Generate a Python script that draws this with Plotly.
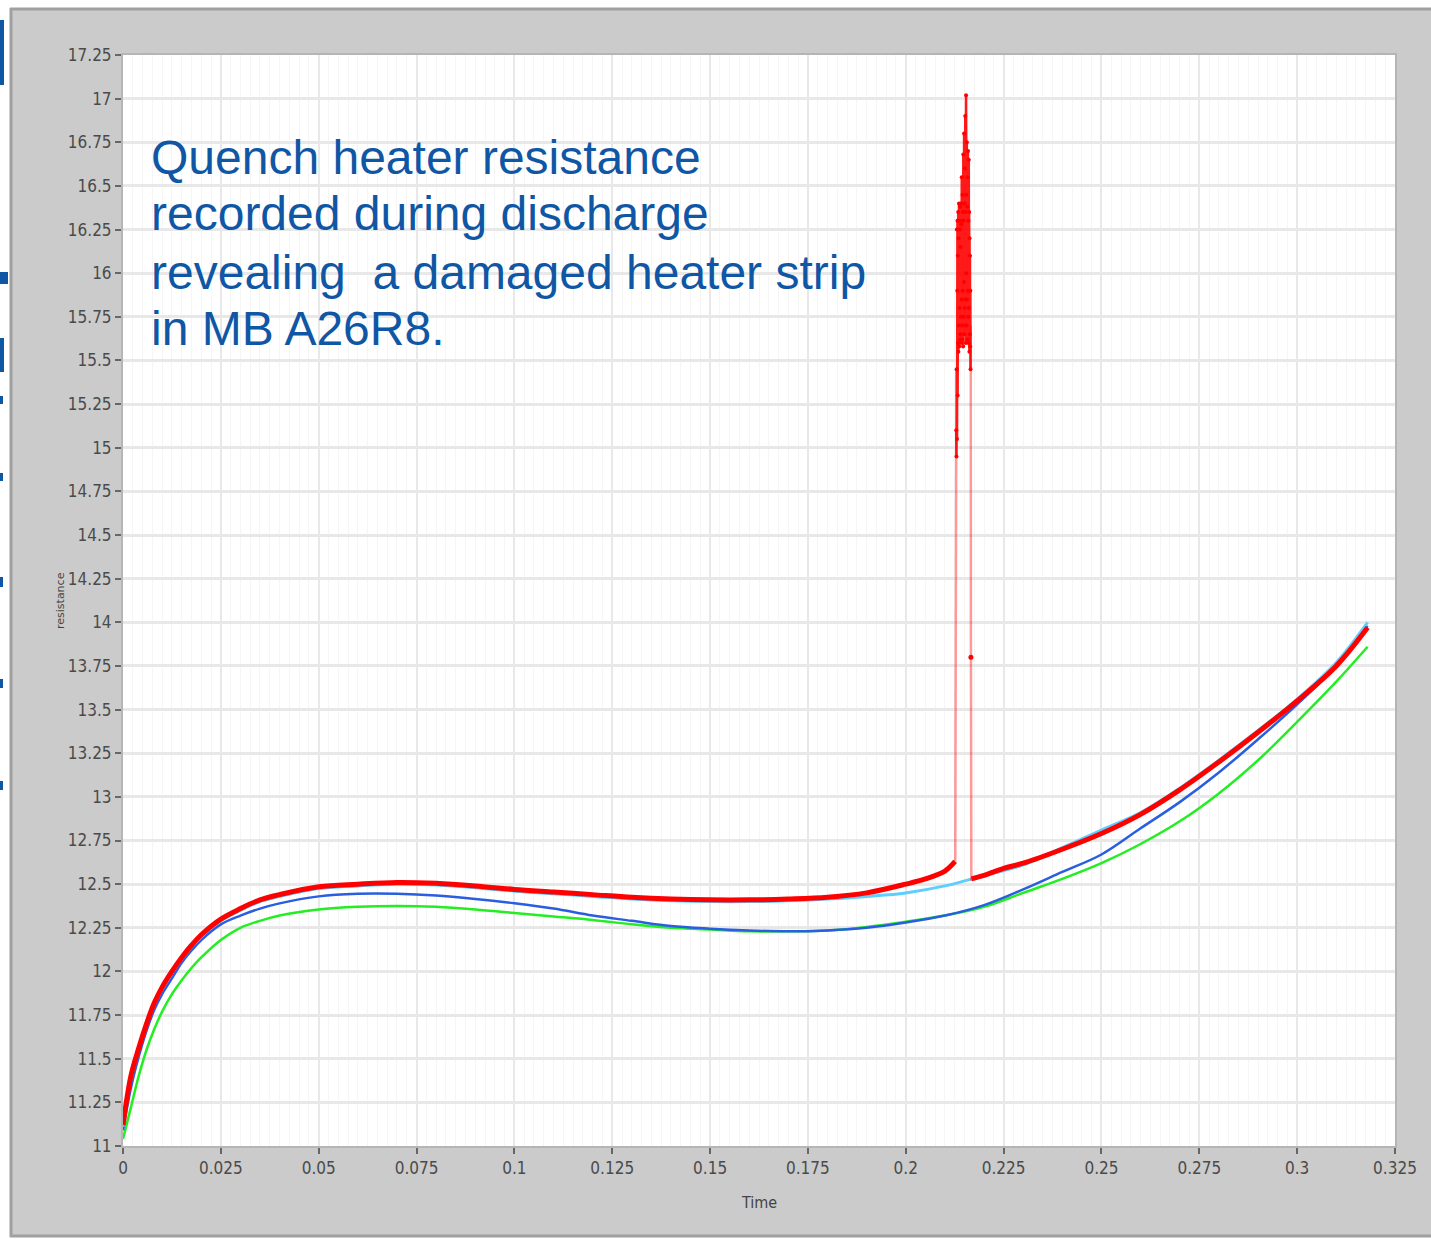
import plotly.graph_objects as go

# ---------------- data ----------------
t_vals = [0, 0.002, 0.004, 0.006, 0.008, 0.01, 0.0125, 0.015, 0.0175, 0.02,
          0.025, 0.03, 0.035, 0.04, 0.05, 0.06, 0.07, 0.08, 0.09, 0.1,
          0.11, 0.12, 0.13, 0.14, 0.15, 0.16, 0.17, 0.18, 0.19, 0.2,
          0.21, 0.22, 0.23, 0.24, 0.25, 0.26, 0.27, 0.28, 0.29, 0.3,
          0.31, 0.318]

green_vals = [11.04, 11.22, 11.40, 11.55, 11.67, 11.77, 11.87, 11.95, 12.02, 12.08,
              12.18, 12.25, 12.29, 12.32, 12.355, 12.37, 12.375, 12.37, 12.355, 12.335,
              12.315, 12.295, 12.27, 12.25, 12.24, 12.23, 12.23, 12.235, 12.255, 12.285,
              12.32, 12.37, 12.45, 12.53, 12.62, 12.73, 12.86, 13.02, 13.21, 13.43,
              13.66, 13.86]

blue_vals = [11.09, 11.33, 11.51, 11.66, 11.78, 11.87, 11.96, 12.05, 12.12, 12.18,
             12.27, 12.32, 12.36, 12.39, 12.43, 12.445, 12.445, 12.435, 12.415, 12.39,
             12.36, 12.32, 12.29, 12.26, 12.245, 12.235, 12.23, 12.235, 12.25, 12.28,
             12.32, 12.38, 12.47, 12.57, 12.67, 12.82, 12.97, 13.14, 13.33, 13.53,
             13.75, 13.98]

cyan_vals = [11.11, 11.38, 11.55, 11.69, 11.81, 11.90, 11.99, 12.07, 12.14, 12.20,
             12.29, 12.35, 12.40, 12.43, 12.475, 12.49, 12.50, 12.495, 12.48, 12.46,
             12.445, 12.43, 12.415, 12.405, 12.40, 12.40, 12.405, 12.415, 12.43, 12.45,
             12.49, 12.55, 12.61, 12.71, 12.81, 12.91, 13.05, 13.21, 13.38, 13.56,
             13.77, 14.00]

# red: before the spike, the spike itself, after the spike
red_t_before = [0, 0.002, 0.004, 0.006, 0.008, 0.01, 0.0125, 0.015, 0.0175, 0.02,
                0.025, 0.03, 0.035, 0.04, 0.05, 0.06, 0.07, 0.08, 0.09, 0.1,
                0.11, 0.12, 0.13, 0.14, 0.15, 0.16, 0.17, 0.18, 0.19, 0.2,
                0.205, 0.21, 0.2126]
red_v_before = [11.12, 11.40, 11.56, 11.70, 11.82, 11.91, 12.00, 12.08, 12.15, 12.21,
                12.30, 12.36, 12.41, 12.44, 12.485, 12.50, 12.51, 12.505, 12.49, 12.47,
                12.455, 12.44, 12.425, 12.415, 12.41, 12.41, 12.415, 12.425, 12.45, 12.50,
                12.53, 12.575, 12.63]

spike_t = [0.21265,
           0.21290, 0.21295, 0.21300, 0.21305, 0.21310, 0.21315, 0.21320, 0.21325, 0.21330, 0.21335,
           0.21340, 0.21345, 0.21350, 0.21355, 0.21360, 0.21365, 0.21370, 0.21375, 0.21380, 0.21385,
           0.21390, 0.21395, 0.21400, 0.21405, 0.21410, 0.21415, 0.21420, 0.21425, 0.21430, 0.21435,
           0.21440, 0.21445, 0.21450, 0.21455, 0.21460, 0.21465, 0.21470, 0.21475, 0.21480, 0.21485,
           0.21490, 0.21495, 0.21500, 0.21505, 0.21510, 0.21515, 0.21520, 0.21525, 0.21530, 0.21535,
           0.21540, 0.21545, 0.21550, 0.21555, 0.21560, 0.21565, 0.21570, 0.21575, 0.21580, 0.21585,
           0.21590, 0.21595, 0.21600, 0.21605, 0.21610, 0.21615, 0.21620, 0.21625, 0.21630, 0.21635,
           0.21640, 0.21645, 0.21650, 0.21655, 0.21660, 0.21665, 0.21675, 0.21680]
spike_v = [12.63,
           15.10, 14.95, 15.45, 16.25, 15.05, 15.90, 16.30, 15.30, 16.10, 15.60,
           16.35, 15.55, 16.20, 15.70, 16.40, 15.58, 16.30, 15.80, 16.25, 15.62,
           16.38, 15.65, 16.15, 15.75, 16.40, 15.60, 16.28, 15.85, 16.55, 15.70,
           16.30, 15.62, 16.45, 15.90, 16.35, 15.58, 16.68, 15.75, 16.30, 15.95,
           16.80, 15.65, 16.40, 15.80, 16.60, 15.70, 16.90, 15.85, 16.35, 15.60,
           17.02, 16.00, 16.45, 15.70, 16.75, 15.85, 16.38, 15.62, 16.55, 15.90,
           16.70, 15.75, 16.30, 15.60, 16.65, 15.80, 16.35, 15.55, 16.20, 15.65,
           16.10, 15.58, 15.90, 15.45, 15.70, 13.80, 12.52, 12.53]

red_t_after = [0.2168, 0.22, 0.225, 0.23, 0.24, 0.25, 0.26, 0.27, 0.28, 0.29,
               0.3, 0.31, 0.318]
red_v_after = [12.53, 12.55, 12.59, 12.62, 12.70, 12.79, 12.90, 13.04, 13.20, 13.37,
               13.55, 13.75, 13.97]

y_ticks = [11, 11.25, 11.5, 11.75, 12, 12.25, 12.5, 12.75, 13, 13.25, 13.5, 13.75,
           14, 14.25, 14.5, 14.75, 15, 15.25, 15.5, 15.75, 16, 16.25, 16.5, 16.75,
           17, 17.25]
y_ticklabels = ["11", "11.25", "11.5", "11.75", "12", "12.25", "12.5", "12.75", "13",
                "13.25", "13.5", "13.75", "14", "14.25", "14.5", "14.75", "15", "15.25",
                "15.5", "15.75", "16", "16.25", "16.5", "16.75", "17", "17.25"]
x_ticks = [0, 0.025, 0.05, 0.075, 0.1, 0.125, 0.15, 0.175, 0.2, 0.225, 0.25, 0.275,
           0.3, 0.325]
x_ticklabels = ["0", "0.025", "0.05", "0.075", "0.1", "0.125", "0.15", "0.175", "0.2",
                "0.225", "0.25", "0.275", "0.3", "0.325"]

note_lines = ["Quench heater resistance",
              "recorded during discharge",
              "revealing&nbsp; a damaged heater strip",
              "in MB A26R8."]

# ---------------- layout geometry (pixels) ----------------
W, H = 1431, 1239
L, R, T, B = 123, 1395, 55, 1146


def px(xp):
    return (xp - L) / (R - L)


def py(yp):
    return (B - yp) / (B - T)


TICK_FONT = dict(family="Liberation Sans Narrow, DejaVu Sans Condensed, Arial Narrow, sans-serif",
                 size=17, color="#4a4a4a")
PANEL = "#cbcbcb"

fig = go.Figure()

fig.add_trace(go.Scatter(x=t_vals, y=green_vals, mode="lines", line_shape="spline",
                         line=dict(color="#22ee22", width=2.5), showlegend=False))
fig.add_trace(go.Scatter(x=t_vals, y=blue_vals, mode="lines", line_shape="spline",
                         line=dict(color="#2a5ee0", width=2.5), showlegend=False))
fig.add_trace(go.Scatter(x=t_vals, y=cyan_vals, mode="lines", line_shape="spline",
                         line=dict(color="#5ccfff", width=3), showlegend=False))
fig.add_trace(go.Scatter(x=red_t_before, y=red_v_before, mode="lines", line_shape="spline",
                         line=dict(color="#ff0000", width=5), showlegend=False))
# spike: faint rising/falling legs, then the dense noisy band
fig.add_trace(go.Scatter(x=spike_t[:2] + [None] + spike_t[-5:], y=spike_v[:2] + [None] + spike_v[-5:],
                         mode="lines",
                         line=dict(color="rgba(255,0,0,0.4)", width=2.5), showlegend=False))
fig.add_trace(go.Scatter(x=spike_t[-3:-2], y=spike_v[-3:-2], mode="markers",
                         marker=dict(color="#ff0000", size=5), showlegend=False))
fig.add_trace(go.Scatter(x=spike_t[1:-4], y=spike_v[1:-4], mode="lines+markers",
                         line=dict(color="rgba(255,0,0,0.9)", width=2.5),
                         marker=dict(color="#ff0000", size=4), showlegend=False))
fig.add_trace(go.Scatter(x=red_t_after, y=red_v_after, mode="lines", line_shape="spline",
                         line=dict(color="#ff0000", width=5), showlegend=False))

blue = "#0f57a5"
shapes = [
    # white slide strips outside the gray LabVIEW panel
    dict(type="rect", xref="paper", yref="paper", layer="above",
         x0=px(-5), x1=px(10), y0=py(H + 5), y1=py(-5),
         fillcolor="#ffffff", line=dict(width=0)),
    dict(type="rect", xref="paper", yref="paper", layer="above",
         x0=px(-5), x1=px(W + 5), y0=py(8), y1=py(-5),
         fillcolor="#ffffff", line=dict(width=0)),
    dict(type="rect", xref="paper", yref="paper", layer="above",
         x0=px(-5), x1=px(W + 5), y0=py(H + 5), y1=py(1237),
         fillcolor="#ffffff", line=dict(width=0)),
    # panel frame
    dict(type="line", xref="paper", yref="paper", layer="above",
         x0=px(11), x1=px(11), y0=py(1237), y1=py(8), line=dict(color="#a0a0a0", width=3)),
    dict(type="line", xref="paper", yref="paper", layer="above",
         x0=px(10), x1=px(W + 5), y0=py(9), y1=py(9), line=dict(color="#a0a0a0", width=3)),
    dict(type="line", xref="paper", yref="paper", layer="above",
         x0=px(10), x1=px(W + 5), y0=py(1236), y1=py(1236), line=dict(color="#a0a0a0", width=3)),
]
# fragments of slide text cut off at the left edge
frag = [(0, 20, 4, 85), (0, 272, 8, 284), (0, 338, 4, 372), (0, 396, 3, 404),
        (0, 473, 3, 481), (0, 577, 3, 587), (0, 679, 3, 688), (0, 781, 3, 790)]
for x0, y0, x1, y1 in frag:
    shapes.append(dict(type="rect", xref="paper", yref="paper", layer="above",
                       x0=px(x0), x1=px(x1), y0=py(y1), y1=py(y0),
                       fillcolor=blue, line=dict(width=0)))

annotations = []
line_centers = [157, 214, 272, 329]
for txt, yc in zip(note_lines, line_centers):
    annotations.append(dict(text=txt, xref="paper", yref="paper", x=px(149), y=py(yc),
                            xanchor="left", yanchor="middle", showarrow=False,
                            font=dict(family="Liberation Sans, Arial, sans-serif",
                                      size=48, color=blue)))
annotations.append(dict(text="resistance", xref="paper", yref="paper", x=px(60), y=py(600),
                        xanchor="center", yanchor="middle", textangle=-90, showarrow=False,
                        font=dict(family="DejaVu Sans, sans-serif", size=11, color="#444444")))
annotations.append(dict(text="Time", xref="paper", yref="paper", x=px(759), y=py(1202),
                        xanchor="center", yanchor="middle", showarrow=False,
                        font=dict(family="Liberation Sans Narrow, DejaVu Sans Condensed, sans-serif",
                                  size=16, color="#444444")))

fig.update_layout(
    width=W, height=H,
    margin=dict(l=L, r=W - R, t=T, b=H - B, pad=0),
    paper_bgcolor=PANEL,
    plot_bgcolor="#ffffff",
    shapes=shapes,
    annotations=annotations,
    showlegend=False,
)

fig.update_xaxes(range=[0, 0.325], tickmode="array", tickvals=x_ticks, ticktext=x_ticklabels,
                 ticks="outside", ticklen=6, tickwidth=1.5, tickcolor="#666666",
                 tickfont=TICK_FONT, showgrid=True, gridcolor="#e8e8e8", gridwidth=2,
                 minor=dict(dtick=0.0025, tick0=0, showgrid=True, gridcolor="#f5f5f5",
                            gridwidth=1, ticks=""),
                 showline=True, linecolor="#b5b5b5", linewidth=2, mirror=True,
                 zeroline=False, fixedrange=True)
fig.update_yaxes(range=[11, 17.25], tickmode="array", tickvals=y_ticks, ticktext=y_ticklabels,
                 ticks="outside", ticklen=6, tickwidth=1.5, tickcolor="#666666",
                 tickfont=TICK_FONT, showgrid=True, gridcolor="#e8e8e8", gridwidth=3,
                 showline=True, linecolor="#b5b5b5", linewidth=2, mirror=True,
                 zeroline=False, fixedrange=True)

fig.write_html("out.html", config={"displayModeBar": False},
               post_script="document.body.style.margin='0';")
